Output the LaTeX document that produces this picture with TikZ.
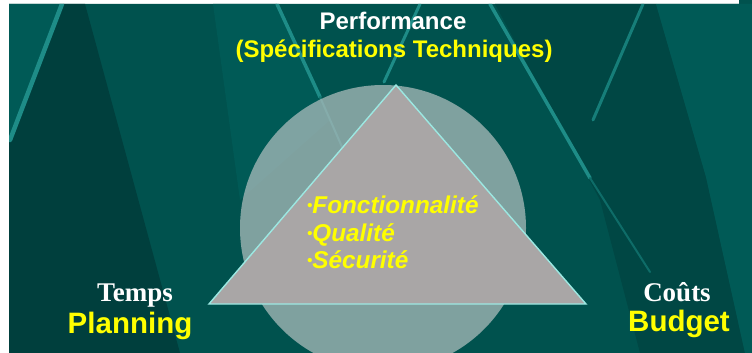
\documentclass[tikz,border=0pt]{standalone}
\usepackage{fontspec}
\setmainfont{Liberation Sans}
\newfontfamily\timesfont{Liberation Serif}
\definecolor{tealbase}{HTML}{00524E}
\definecolor{tealdark}{HTML}{003F3D}
\definecolor{teallight}{HTML}{005A56}
\definecolor{streak}{HTML}{1E8C87}
\definecolor{circfill}{HTML}{BEC8C8}
\definecolor{trifill}{HTML}{A9A6A6}
\definecolor{triedge}{HTML}{9CE8E2}
\definecolor{txtyellow}{HTML}{FFFF00}
\tikzset{
  streakline/.style={draw=streak, line cap=round},
  trishape/.style={fill=trifill, draw=triedge, line width=1.4pt, line join=miter},
  sanstitle/.style={anchor=base, inner sep=0pt, font=\bfseries\fontsize{24}{28}\selectfont},
  bullettext/.style={anchor=base west, inner sep=0pt, text=txtyellow, font=\bfseries\itshape\fontsize{24.3}{28}\selectfont},
  serifword/.style={anchor=base, inner sep=0pt, text=white, font=\timesfont\bfseries\fontsize{27}{30}\selectfont},
  sansword/.style={anchor=base, inner sep=0pt, text=txtyellow, font=\bfseries\fontsize{29.5}{33}\selectfont}
}
\newcommand{\smallbul}{{\fontsize{15}{15}\selectfont\raisebox{2.5pt}{•}}}
\begin{document}
\begin{tikzpicture}[x=1pt,y=-1pt]
\useasboundingbox (0,0) rectangle (752,353);
\fill[white] (0,0) rectangle (752,353);
\begin{scope}
\clip (9,4) -- (739,4) -- (739,0) -- (752,0) -- (752,353) -- (9,353) -- cycle;
\fill[tealbase] (0,0) rectangle (752,353);
% darker and lighter wedges
\fill[tealdark] (63,4) -- (85,4) -- (180,353) -- (9,353) -- (9,140) -- cycle;
\fill[teallight] (9,4) -- (63,4) -- (9,140) -- cycle;
\fill[teallight] (213,4) -- (277,4) -- (330,120) -- (240,200) -- cycle;
\fill[tealdark!60!tealbase] (495,4) -- (656,4) -- (706,177) -- (745,353) -- (640,353) -- (600,200) -- cycle;
\fill[teallight] (656,4) -- (752,4) -- (752,353) -- (745,353) -- (706,177) -- cycle;
% bright streaks
\draw[streakline, line width=4.5pt] (62,4) -- (10,140);
\draw[streakline, line width=3.5pt] (277,4) -- (320,97);
\draw[streakline, line width=2pt, draw=streak!60!tealbase] (320,97) -- (350,165);
\draw[streakline, line width=3pt] (420,4) -- (384,82);
\draw[streakline, line width=3.5pt] (490,4) -- (590,178);
\draw[streakline, line width=2pt, draw=streak!45!tealbase] (590,178) -- (650,272);
\draw[streakline, line width=3pt, draw=streak!75!tealbase] (643,4) -- (593,120);
% circle
\node[circle, minimum size=286pt, inner sep=0pt, fill=circfill, fill opacity=0.67] (circ) at (383,228) {};
\end{scope}
% triangle
\coordinate (apex) at (396,85);
\coordinate (bl) at (209,304);
\coordinate (br) at (586,304);
\filldraw[trishape] (apex) -- (bl) -- (br) -- cycle;
% texts
\node[sanstitle, text=white] (perf) at (393,30) {Performance};
\node[sanstitle, text=txtyellow] (spec) at (394,58) {(Spécifications Techniques)};
\node[bullettext] (f1) at (307,213) {\smallbul Fonctionnalité};
\node[bullettext] (f2) at (307,241) {\smallbul Qualité};
\node[bullettext] (f3) at (307,268) {\smallbul Sécurité};
\node[serifword] (temps) at (135,301) {Temps};
\node[sansword] (plan) at (130,333) {Planning};
\node[serifword] (couts) at (677,301) {Coûts};
\node[sansword] (budget) at (679,331) {Budget};
\end{tikzpicture}
\end{document}
